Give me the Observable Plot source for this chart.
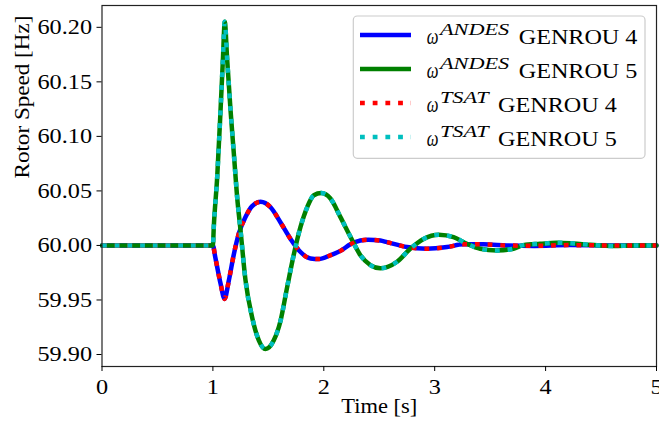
<!DOCTYPE html>
<html><head><meta charset="utf-8">
<script src="https://cdn.jsdelivr.net/npm/d3@7"></script>
<script src="https://cdn.jsdelivr.net/npm/@observablehq/plot@0.6"></script>
<style>
html,body{margin:0;padding:0;background:#fff;}
#chart svg{display:block;}
#chart svg text{font-family:"Liberation Serif";}
</style>
</head><body><div id="chart"></div>
<script>
// GENROU 4 rotor speed (ANDES and TSAT overlap)
const gen4Time  = [0, 0.5, 1.0, 1.02, 1.039, 1.069, 1.105, 1.144, 1.189, 1.234, 1.294, 1.354, 1.43, 1.52, 1.61, 1.70, 1.79, 1.88, 1.955, 2.06, 2.15, 2.24, 2.33, 2.40, 2.51, 2.57, 2.75, 2.93, 3.11, 3.26, 3.44, 3.65, 3.9, 4.2, 4.6, 5.0];
const gen4Speed = [60, 60, 60, 59.990, 59.980, 59.965, 59.951, 59.968, 59.992, 60.011, 60.026, 60.036, 60.040, 60.035, 60.021, 60.006, 59.994, 59.988, 59.9875, 59.991, 59.995, 60.001, 60.0045, 60.0052, 60.0045, 60.003, 59.9985, 59.997, 59.9985, 60.001, 60.001, 60.0, 59.9996, 60.0003, 60.0, 60.0];
// GENROU 5 rotor speed (ANDES and TSAT overlap)
const gen5Time  = [0, 0.5, 1.0, 1.008, 1.039, 1.069, 1.09, 1.107, 1.129, 1.159, 1.189, 1.219, 1.249, 1.294, 1.354, 1.414, 1.474, 1.549, 1.61, 1.67, 1.73, 1.79, 1.85, 1.91, 1.977, 2.06, 2.15, 2.24, 2.33, 2.42, 2.51, 2.66, 2.78, 2.90, 3.037, 3.17, 3.29, 3.41, 3.56, 3.71, 3.80, 3.95, 4.10, 4.25, 4.40, 4.61, 4.8, 5.0];
const gen5Speed = [60, 60, 60, 60.017, 60.063, 60.124, 60.170, 60.205, 60.170, 60.124, 60.084, 60.044, 60.014, 59.968, 59.934, 59.913, 59.905, 59.913, 59.931, 59.962, 59.992, 60.017, 60.035, 60.046, 60.048, 60.043, 60.026, 60.008, 59.991, 59.982, 59.979, 59.985, 59.997, 60.006, 60.0098, 60.0076, 60.0015, 59.997, 59.9954, 59.997, 60.0003, 60.0015, 60.0025, 60.0018, 60.0006, 59.9995, 60.0, 60.0];

const xTicks = [0, 1, 2, 3, 4, 5];
const yTicks = [59.90, 59.95, 60.00, 60.05, 60.10, 60.15, 60.20];
const legendSup = ["ANDES", "ANDES", "TSAT", "TSAT"];
const legendName = ["GENROU 4", "GENROU 5", "GENROU 4", "GENROU 5"];
const legendColor = ["#0000ff", "#008000", "#ff0000", "#00bfbf"];
const legendDotted = [false, false, true, true];

const g4 = gen4Time.map((t, i) => ({t, v: gen4Speed[i]}));
const g5 = gen5Time.map((t, i) => ({t, v: gen5Speed[i]}));

const dots = "4.8,7.9";

const svg = Plot.plot({
  width: 659,
  height: 428,
  marginLeft: 101.5,
  marginRight: 3,
  marginTop: 5,
  marginBottom: 62,
  style: {fontFamily: "Liberation Serif", fontSize: "21px", background: "#fff", color: "#000"},
  x: {domain: [0, 5]},
  y: {domain: [59.889, 60.220]},
  marks: [
    Plot.line(g4, {x: "t", y: "v", stroke: legendColor[0], strokeWidth: 4.5, curve: "monotone-x"}),
    Plot.line(g5, {x: "t", y: "v", stroke: legendColor[1], strokeWidth: 4.5, curve: "monotone-x"}),
    Plot.line(g4, {x: "t", y: "v", stroke: legendColor[2], strokeWidth: 4.5, strokeDasharray: dots, strokeLinecap: "butt", curve: "monotone-x"}),
    Plot.line(g5, {x: "t", y: "v", stroke: legendColor[3], strokeWidth: 4.5, strokeDasharray: dots, strokeLinecap: "butt", curve: "monotone-x"}),
    Plot.frame({stroke: "#222", strokeWidth: 1.2}),
    Plot.axisX({ticks: xTicks, tickSize: 5, tickPadding: 8, tickFormat: d => String(d), label: null, fontSize: 21}),
    Plot.axisY({ticks: yTicks, tickSize: 5, tickPadding: 5, tickFormat: d => d.toFixed(2), label: null, fontSize: 21}),
    Plot.text(["Time [s]"], {frameAnchor: "bottom", dy: 46, fontSize: 21, fill: "#000"}),
    Plot.text(["Rotor Speed [Hz]"], {frameAnchor: "left", rotate: -90, dx: -79.5, dy: -7.5, fontSize: 21, fill: "#000"})
  ]
});

document.getElementById("chart").appendChild(svg);

// horizontal stretch of the glyphs, as in the reference rendering
function stretch(el, k) {
  const w = el.getComputedTextLength();
  el.setAttribute("textLength", (w * k).toFixed(2));
  el.setAttribute("lengthAdjust", "spacingAndGlyphs");
  return w * k;
}
d3.select(svg).selectAll('g[aria-label$="tick label"] text').each(function() { stretch(this, 1.155); });
d3.select(svg).selectAll('g[aria-label="text"] text').each(function() {
  stretch(this, this.textContent.startsWith("Time") ? 1.07 : 1.1);
});

// legend inside the plot area (upper right)
const lg = d3.select(svg).append("g").attr("class", "legend").attr("text-anchor", "start");
lg.append("rect")
  .attr("x", 353.3).attr("y", 16).attr("width", 291.7).attr("height", 142.3)
  .attr("rx", 4).attr("fill", "#fff").attr("fill-opacity", 0.8)
  .attr("stroke", "#cccccc").attr("stroke-width", 1.2);
legendName.forEach((name, i) => {
  const cy = 35 + i * 34;
  lg.append("line")
    .attr("x1", 360).attr("x2", 411).attr("y1", cy).attr("y2", cy)
    .attr("stroke", legendColor[i]).attr("stroke-width", 4.5)
    .attr("stroke-dasharray", legendDotted[i] ? dots : null)
    .attr("stroke-linecap", "butt");
  let x = 426.7;
  const om = lg.append("text").attr("x", x).attr("y", cy + 9.3)
    .attr("font-style", "italic").attr("font-size", 23).attr("fill", "#000").text("ω");
  x += stretch(om.node(), 0.72) + 1.6;
  const sup = lg.append("text").attr("x", x).attr("y", cy - 0.5)
    .attr("font-style", "italic").attr("font-size", 16).attr("fill", "#000").text(legendSup[i]);
  x += stretch(sup.node(), 1.39) + 9.5;
  const nm = lg.append("text").attr("x", x).attr("y", cy + 9.3)
    .attr("font-size", 21).attr("fill", "#000").text(name);
  stretch(nm.node(), 1.15);
});
</script>
</body></html>
